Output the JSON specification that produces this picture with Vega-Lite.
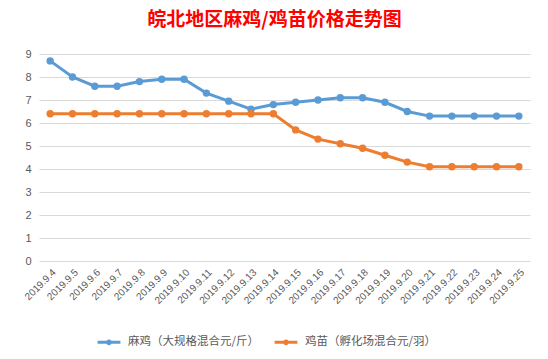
{
  "$schema": "https://vega.github.io/schema/vega-lite/v6.json",
  "width": 491,
  "height": 207,
  "autosize": {"type": "none"},
  "padding": {"left": 39, "top": 54, "right": 18, "bottom": 98},
  "background": "white",
  "title": {
    "text": "皖北地区麻鸡/鸡苗价格走势图",
    "color": "#FF0000",
    "font": "Noto Sans CJK SC",
    "fontSize": 19,
    "fontWeight": "bold",
    "anchor": "middle",
    "frame": "group",
    "dx": -10,
    "offset": 18
  },
  "data": {
    "values": [
      {"date": "2019.9.4", "series": "麻鸡（大规格混合元/斤）", "value": 8.7},
      {"date": "2019.9.5", "series": "麻鸡（大规格混合元/斤）", "value": 8.0},
      {"date": "2019.9.6", "series": "麻鸡（大规格混合元/斤）", "value": 7.6},
      {"date": "2019.9.7", "series": "麻鸡（大规格混合元/斤）", "value": 7.6},
      {"date": "2019.9.8", "series": "麻鸡（大规格混合元/斤）", "value": 7.8},
      {"date": "2019.9.9", "series": "麻鸡（大规格混合元/斤）", "value": 7.9},
      {"date": "2019.9.10", "series": "麻鸡（大规格混合元/斤）", "value": 7.9},
      {"date": "2019.9.11", "series": "麻鸡（大规格混合元/斤）", "value": 7.3},
      {"date": "2019.9.12", "series": "麻鸡（大规格混合元/斤）", "value": 6.95},
      {"date": "2019.9.13", "series": "麻鸡（大规格混合元/斤）", "value": 6.6},
      {"date": "2019.9.14", "series": "麻鸡（大规格混合元/斤）", "value": 6.8},
      {"date": "2019.9.15", "series": "麻鸡（大规格混合元/斤）", "value": 6.9},
      {"date": "2019.9.16", "series": "麻鸡（大规格混合元/斤）", "value": 7.0},
      {"date": "2019.9.17", "series": "麻鸡（大规格混合元/斤）", "value": 7.1},
      {"date": "2019.9.18", "series": "麻鸡（大规格混合元/斤）", "value": 7.1},
      {"date": "2019.9.19", "series": "麻鸡（大规格混合元/斤）", "value": 6.9},
      {"date": "2019.9.20", "series": "麻鸡（大规格混合元/斤）", "value": 6.5},
      {"date": "2019.9.21", "series": "麻鸡（大规格混合元/斤）", "value": 6.3},
      {"date": "2019.9.22", "series": "麻鸡（大规格混合元/斤）", "value": 6.3},
      {"date": "2019.9.23", "series": "麻鸡（大规格混合元/斤）", "value": 6.3},
      {"date": "2019.9.24", "series": "麻鸡（大规格混合元/斤）", "value": 6.3},
      {"date": "2019.9.25", "series": "麻鸡（大规格混合元/斤）", "value": 6.3},
      {"date": "2019.9.4", "series": "鸡苗（孵化场混合元/羽）", "value": 6.4},
      {"date": "2019.9.5", "series": "鸡苗（孵化场混合元/羽）", "value": 6.4},
      {"date": "2019.9.6", "series": "鸡苗（孵化场混合元/羽）", "value": 6.4},
      {"date": "2019.9.7", "series": "鸡苗（孵化场混合元/羽）", "value": 6.4},
      {"date": "2019.9.8", "series": "鸡苗（孵化场混合元/羽）", "value": 6.4},
      {"date": "2019.9.9", "series": "鸡苗（孵化场混合元/羽）", "value": 6.4},
      {"date": "2019.9.10", "series": "鸡苗（孵化场混合元/羽）", "value": 6.4},
      {"date": "2019.9.11", "series": "鸡苗（孵化场混合元/羽）", "value": 6.4},
      {"date": "2019.9.12", "series": "鸡苗（孵化场混合元/羽）", "value": 6.4},
      {"date": "2019.9.13", "series": "鸡苗（孵化场混合元/羽）", "value": 6.4},
      {"date": "2019.9.14", "series": "鸡苗（孵化场混合元/羽）", "value": 6.4},
      {"date": "2019.9.15", "series": "鸡苗（孵化场混合元/羽）", "value": 5.7},
      {"date": "2019.9.16", "series": "鸡苗（孵化场混合元/羽）", "value": 5.3},
      {"date": "2019.9.17", "series": "鸡苗（孵化场混合元/羽）", "value": 5.1},
      {"date": "2019.9.18", "series": "鸡苗（孵化场混合元/羽）", "value": 4.9},
      {"date": "2019.9.19", "series": "鸡苗（孵化场混合元/羽）", "value": 4.6},
      {"date": "2019.9.20", "series": "鸡苗（孵化场混合元/羽）", "value": 4.3},
      {"date": "2019.9.21", "series": "鸡苗（孵化场混合元/羽）", "value": 4.1},
      {"date": "2019.9.22", "series": "鸡苗（孵化场混合元/羽）", "value": 4.1},
      {"date": "2019.9.23", "series": "鸡苗（孵化场混合元/羽）", "value": 4.1},
      {"date": "2019.9.24", "series": "鸡苗（孵化场混合元/羽）", "value": 4.1},
      {"date": "2019.9.25", "series": "鸡苗（孵化场混合元/羽）", "value": 4.1}
    ]
  },
  "mark": {
    "type": "line",
    "strokeWidth": 3,
    "point": {"filled": true, "size": 55, "opacity": 1}
  },
  "encoding": {
    "x": {
      "field": "date",
      "type": "ordinal",
      "sort": null,
      "title": null,
      "scale": {"paddingInner": 1, "paddingOuter": 0.5},
      "axis": {
        "labelAngle": -45,
        "labelFont": "Liberation Sans",
        "labelFontSize": 10,
        "labelColor": "#595959",
        "domain": false,
        "ticks": false,
        "grid": false,
        "labelPadding": 6
      }
    },
    "y": {
      "field": "value",
      "type": "quantitative",
      "title": null,
      "scale": {"domain": [0, 9]},
      "axis": {
        "values": [0, 1, 2, 3, 4, 5, 6, 7, 8, 9],
        "domain": false,
        "ticks": false,
        "gridColor": "#D9D9D9",
        "gridWidth": 1,
        "labelFont": "Liberation Sans",
        "labelFontSize": 11,
        "labelColor": "#595959",
        "labelPadding": 8
      }
    },
    "color": {
      "field": "series",
      "type": "nominal",
      "sort": ["麻鸡（大规格混合元/斤）", "鸡苗（孵化场混合元/羽）"],
      "scale": {"range": ["#5B9BD5", "#ED7D31"]},
      "legend": {
        "title": null,
        "orient": "none",
        "direction": "horizontal",
        "legendX": 57,
        "legendY": 275,
        "symbolType": "M-1,0L1,0M-0.12,0a0.12,0.12 0 1,0 0.24,0a0.12,0.12 0 1,0 -0.24,0",
        "symbolSize": 520,
        "symbolStrokeWidth": 3,
        "labelFont": "Noto Sans CJK SC",
        "labelFontSize": 11.5,
        "labelColor": "#595959",
        "labelOffset": 6,
        "columnPadding": 8,
        "labelLimit": 300
      }
    }
  },
  "config": {
    "view": {"stroke": null}
  }
}
